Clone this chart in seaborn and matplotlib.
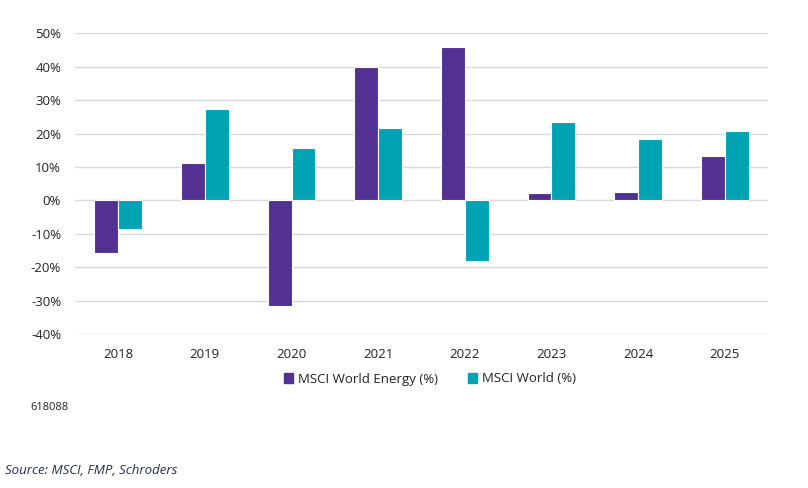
import matplotlib
matplotlib.use("Agg")
import matplotlib.pyplot as plt
import seaborn as sns
import pandas as pd
import numpy as np
from matplotlib.ticker import FuncFormatter, MultipleLocator

years = ["2018", "2019", "2020", "2021", "2022", "2023", "2024", "2025"]
energy = [-15.9, 11.2, -31.6, 39.9, 45.8, 2.2, 2.5, 13.2]
world = [-8.7, 27.4, 15.7, 21.6, -18.1, 23.5, 18.4, 20.8]
series_names = ["MSCI World Energy (%)", "MSCI World (%)"]
colors = ["#523192", "#00A3B4"]

df = pd.DataFrame({
    "year": years * 2,
    "value": energy + world,
    "series": [series_names[0]] * len(years) + [series_names[1]] * len(years),
})

sns.set_theme(style="white")
plt.rcParams["font.family"] = ["Open Sans", "DejaVu Sans"]

fig = plt.figure(figsize=(8.08, 4.88), dpi=100)
ax = fig.add_axes([75 / 808, 1 - 334 / 488, (768 - 75) / 808, (334 - 33.3) / 488])

sns.barplot(data=df, x="year", y="value", hue="series", palette=colors, saturation=1,
            width=0.55, edgecolor="white", linewidth=0.8, ax=ax, zorder=3)

ax.set_ylim(-40, 50)
ax.yaxis.set_major_locator(MultipleLocator(10))
ax.yaxis.set_major_formatter(FuncFormatter(lambda v, p: f"{v:.0f}%"))
ax.grid(axis="y", color="#d9d9d9", linewidth=1, zorder=0)
ax.set_axisbelow(True)
for s in ax.spines.values():
    s.set_visible(False)
ax.set_xlabel("")
ax.set_ylabel("")
ax.tick_params(axis="both", length=0, labelsize=9.5, colors="#222222", pad=10)
ax.tick_params(axis="y", pad=10)

ax.legend_.remove()
handles = [plt.Rectangle((0, 0), 1, 1, color=c) for c in colors]
fig.legend(handles, series_names, loc="center", bbox_to_anchor=(430 / 808, 1 - 379 / 488),
           ncol=2, frameon=False, fontsize=9.5, handlelength=0.7, handleheight=0.7,
           handletextpad=0.4, columnspacing=2.2, labelcolor="#222222")

fig.text(30 / 808, 1 - 407 / 488, "618088", fontsize=8, color="#222222", va="center")
fig.text(5 / 808, 1 - 470 / 488, "Source: MSCI, FMP, Schroders", fontsize=9.5,
         style="italic", color="#1f2f4f", va="center")

fig.savefig("out.png", dpi=100)
